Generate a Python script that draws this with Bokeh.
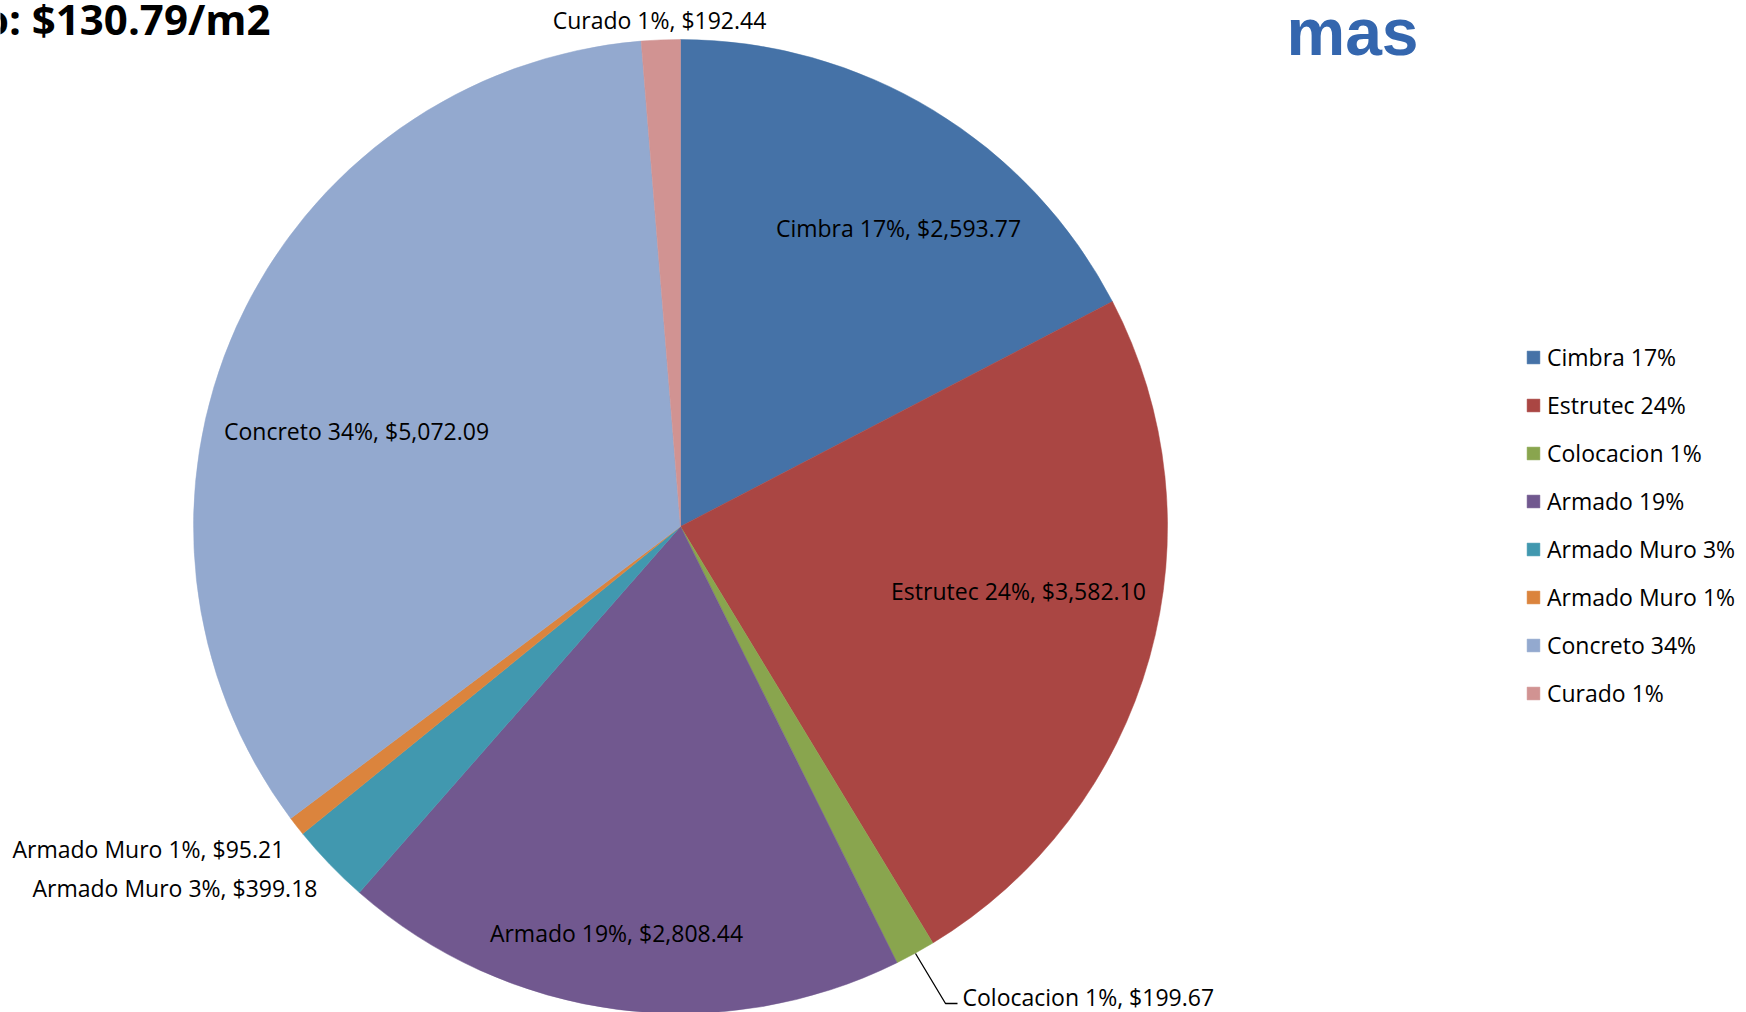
import numpy as np
from bokeh.plotting import figure
from bokeh.models import Range1d, Legend, LegendItem, ColumnDataSource
from bokeh.core.properties import value
from bokeh.embed import file_html
from bokeh.resources import INLINE

# ---- data ----
categories = ["Cimbra", "Estrutec", "Colocacion", "Armado", "Armado Muro",
              "Armado Muro", "Concreto", "Curado"]
costs = [2593.77, 3582.10, 199.67, 2808.44, 399.18, 95.21, 5072.09, 192.44]
colors = ["#4572A7", "#AA4643", "#89A54E", "#71588F", "#4198AF",
          "#DB843D", "#93A9CF", "#D19392"]
title_text = "Costo: $130.79/m2"
logo_text = "mas"

# ---- layout (reference pixel coordinates) ----
W, H = 1746, 1012


def Y(ref_y):
    return H - ref_y


CX, CY, R = 680, Y(526), 487
# label anchors (x, y, align)
label_pos = [
    (898, 227, "center"),
    (1018, 590, "center"),
    (962, 996, "left"),
    (616, 932, "center"),
    (32, 887, "left"),
    (12, 848, "left"),
    (356, 430, "center"),
    (659, 19, "center"),
]

vals = np.array(costs)
total = vals.sum()
frac = vals / total
cum = np.cumsum(frac)
start = np.pi / 2 - 2 * np.pi * (cum - frac)
end = np.pi / 2 - 2 * np.pi * cum
pcts = [f"{int(round(f * 100))}%" for f in frac]

p = figure(width=W, height=H, output_backend="svg", toolbar_location=None,
           x_range=Range1d(0, W), y_range=Range1d(0, H),
           min_border=0)
p.axis.visible = False
p.grid.visible = False
p.outline_line_color = None
p.background_fill_color = "white"

src = ColumnDataSource(dict(start=start, end=end, color=colors))
wr = p.wedge(x=CX, y=CY, radius=R, start_angle="start", end_angle="end",
             direction="clock", fill_color="color", line_color="color",
             line_width=0.5, source=src)

# data labels
lab_src = ColumnDataSource(dict(
    x=[lp[0] for lp in label_pos],
    y=[Y(lp[1]) for lp in label_pos],
    align=[lp[2] for lp in label_pos],
    text=[f"{c} {pc}, ${v:,.2f}" for c, pc, v in zip(categories, pcts, costs)],
))
p.text(x="x", y="y", text="text", text_align="align", text_baseline="middle",
       text_font=value("Open Sans"), text_font_size="23px", text_color="black",
       source=lab_src)

# leader line for Colocacion
p.line(x=[915, 945, 957], y=[Y(953), Y(1003), Y(1003)], line_color="black",
       line_width=1.3)

# title (partially cut at top-left, as in the original)
p.text(x=[270], y=[Y(18)], text=[title_text], text_align="right",
       text_baseline="alphabetic", text_font=value("Open Sans"),
       text_font_size="42px", text_font_style="bold", text_color="black")

# logo
p.text(x=[1352], y=[Y(31)], text=[logo_text], text_align="center",
       text_baseline="middle", text_font=value("Liberation Sans"),
       text_font_size="66px", text_font_style="bold", text_color="#3466AE")

# legend
items = [LegendItem(label=f"{c} {pc}", renderers=[wr], index=i)
         for i, (c, pc) in enumerate(zip(categories, pcts))]
legend = Legend(items=items, location=(1525, H - 709), orientation="vertical",
                glyph_width=16, glyph_height=16, label_height=30,
                spacing=16, padding=0, margin=0, label_standoff=6,
                label_text_font="Open Sans", label_text_font_size="23px",
                label_text_color="black", border_line_color=None,
                background_fill_alpha=0)
p.add_layout(legend)

open("out.html", "w").write(file_html(p, INLINE))
